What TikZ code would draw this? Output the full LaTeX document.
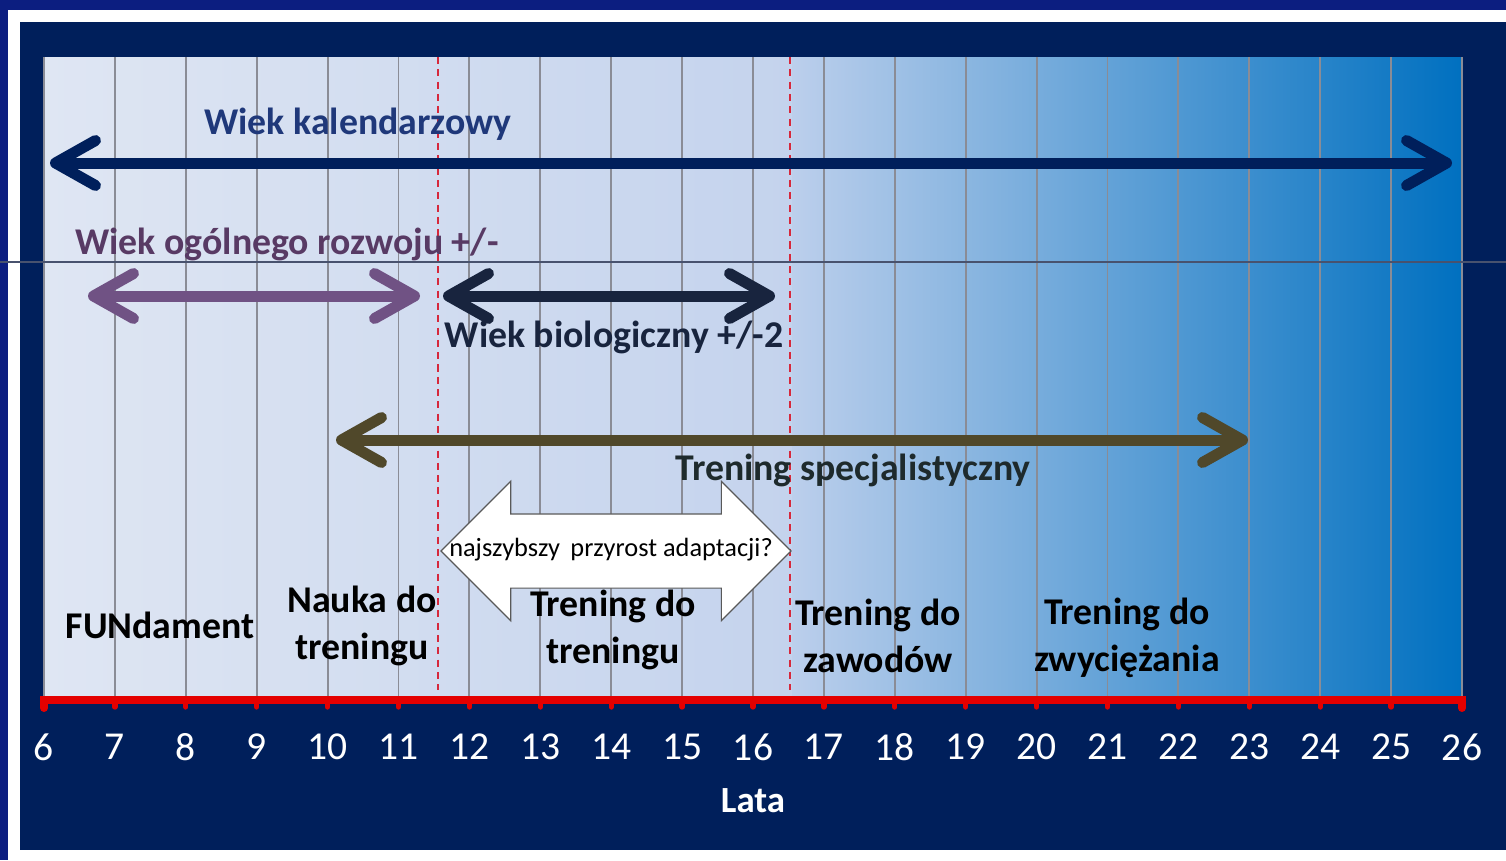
\documentclass[tikz,border=0pt]{standalone}
\usepackage{fontspec}
\setmainfont{Carlito}
\usetikzlibrary{arrows.meta,positioning,shapes.arrows}

\definecolor{frameblue}{RGB}{12,30,128}
\definecolor{panelnavy}{RGB}{0,31,91}
\definecolor{paleL}{RGB}{223,230,243}
\definecolor{paleM}{RGB}{196,211,237}
\definecolor{midM}{RGB}{188,207,236}
\definecolor{deepR}{RGB}{0,112,192}
\definecolor{gridgray}{RGB}{138,140,150}
\definecolor{axisred}{RGB}{228,0,0}
\definecolor{dashred}{RGB}{214,40,60}
\definecolor{kalnavy}{RGB}{0,31,91}
\definecolor{kaltext}{RGB}{31,56,122}
\definecolor{ogpurple}{RGB}{112,82,132}
\definecolor{ogtext}{RGB}{88,58,100}
\definecolor{bionavy}{RGB}{24,36,62}
\definecolor{specolive}{RGB}{80,72,42}
\definecolor{spectext}{RGB}{30,42,44}
\definecolor{rulegray}{RGB}{72,82,110}

\begin{document}
\begin{tikzpicture}[x=0.02cm, y=-0.02cm,
  agearrow/.style={{Straight Barb[length=8mm,width=9mm,round]}-{Straight Barb[length=8mm,width=9mm,round]},
                   line width=2.2mm, line cap=round},
  rangelbl/.style={font=\fontsize{21.5}{26}\selectfont\bfseries, inner sep=0pt},
  phase/.style={font=\fontsize{21.5}{26.5}\selectfont\bfseries, align=center, inner sep=0pt, text=black},
  yearlbl/.style={font=\fontsize{22.5}{27}\selectfont, text=white, inner sep=0pt},
  gridline/.style={gridgray, line width=1.1pt},
  limit/.style={dashred, line width=1.2pt, dash pattern=on 4pt off 3pt},
  adaptarrow/.style={double arrow, draw=black!65, fill=white, line width=0.7pt,
                     minimum height=7cm, inner xsep=0pt, inner ysep=0.73cm,
                     double arrow head extend=0.65cm, double arrow tip angle=90}
]
  \useasboundingbox (0,0) rectangle (1506,860);

  % frame and panel
  \fill[frameblue] (0,0) rectangle (1506,860);
  \fill[white] (8,10) rectangle (1506,860);
  \fill[panelnavy] (20,22) rectangle (1506,850);

  % plot area
  \shade[left color=paleL, right color=paleM] (44,57) rectangle (792,700);
  \shade[left color=midM, right color=deepR] (792,57) rectangle (1462,700);
  \foreach \yr in {6,...,26}
    \draw[gridline] ({44+(\yr-6)*70.9},57) -- ({44+(\yr-6)*70.9},700);
  \draw[rulegray, line width=0.6pt] (0,262) -- (1506,262);

  % phase limits
  \draw[limit] (438,57) -- (438,690);
  \draw[limit] (790,57) -- (790,690);

  % age ranges
  \coordinate (kalL) at (50,163);
  \coordinate (kalR) at (1452,163);
  \draw[agearrow, kalnavy] (kalL) -- (kalR);
  \node[rangelbl, text=kaltext] (kal) at (358,124) {Wiek kalendarzowy};

  \coordinate (ogL) at (88,296);
  \coordinate (ogR) at (420,296);
  \draw[agearrow, ogpurple] (ogL) -- (ogR);
  \node[rangelbl, text=ogtext] (og) at (287,244) {Wiek ogólnego rozwoju +/-};

  \coordinate (bioL) at (443,296);
  \coordinate (bioR) at (775,296);
  \draw[agearrow, bionavy] (bioL) -- (bioR);
  \node[rangelbl, text=bionavy] (bio) at (614,337) {Wiek biologiczny +/-2};

  \coordinate (specL) at (336,440);
  \coordinate (specR) at (1248,440);
  \draw[agearrow, specolive] (specL) -- (specR);
  \node[rangelbl, text=spectext] (spec) at (853,470) {Trening specjalistyczny};

  % adaptation window
  \node[adaptarrow] (adapt) at (616,551) {};
  \node[font=\fontsize{15}{18}\selectfont, inner sep=0pt] (adapttxt) at (611,550)
       {najszybszy\, przyrost adaptacji?};

  % phases
  \node[phase] (fun)   at (160,625)  {FUNdament};
  \node[phase] (nauka) at (362,626)  {Nauka do\\treningu};
  \node[phase] (ttt)   at (613,630)  {Trening do\\treningu};
  \node[phase] (ttz)   at (878,636)  {Trening do\\zawodów};
  \node[phase] (ttw)   at (1127,638) {Trening do\\zwyciężania};

  % axis
  \draw[axisred, line width=4.5pt, line cap=round] (44,708) -- (44,700) -- (1462,700) -- (1462,708);
  \foreach \yr in {7,...,25}
    \draw[axisred, line width=3pt, line cap=round] ({44+(\yr-6)*70.9},700) -- ({44+(\yr-6)*70.9},707);
  \foreach \yr in {6,...,26}
    \node[yearlbl] (y\yr) at ({44+(\yr-6)*70.9},747) {\yr};
  \node[font=\fontsize{21}{25}\selectfont\bfseries, text=white, inner sep=0pt] (lata) at (753,801) {Lata};
\end{tikzpicture}
\end{document}
